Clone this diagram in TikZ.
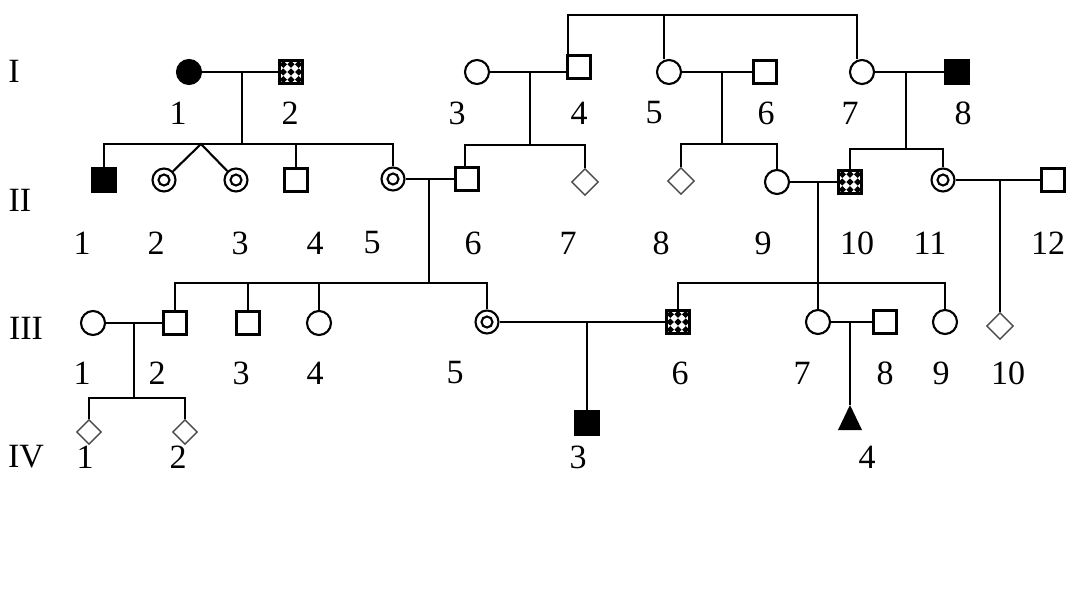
\documentclass[tikz,border=0pt]{standalone}
\usepackage{fontspec}
\setmainfont{Liberation Serif}
\usetikzlibrary{shapes.geometric,calc}
\begin{document}
\begin{tikzpicture}[x=1pt,y=-1pt,
  lw/.style={line width=2.1pt},
  ind/.style={draw, lw, inner sep=0pt, fill=white},
  sq/.style={ind, rectangle, minimum size=23pt},
  ci/.style={ind, circle, minimum size=24pt},
  aff/.style={fill=black},
  dci/.style={ci, minimum size=23pt, path picture={\draw[lw] (path picture bounding box.center) circle (5.5pt);}},
  dia/.style={draw=black!70, line width=1.4pt, diamond, minimum size=27pt, inner sep=0pt, fill=white},
  sdia/.style={dia, minimum size=25pt},
  chk/.style={sq, path picture={
    \foreach \i in {0,1,2}{\foreach \j in {0,1,2}{
      \fill[black] ([shift={(\i*7.67pt+3.83pt,\j*7.67pt+3.83pt)}]path picture bounding box.south west)
        +(0,3.6pt) -- +(3.6pt,0) -- +(0,-3.6pt) -- +(-3.6pt,0) -- cycle;
    }}
    \foreach \i in {0,1,2}{
      \fill[black] ([shift={(\i*7.67pt+3.83pt,0pt)}]path picture bounding box.north west)
        +(0,-2pt) -- +(3.6pt,0) -- +(-3.6pt,0) -- cycle;
    }}},
  lab/.style={font=\fontsize{34}{40}\selectfont, inner sep=0pt},
  link/.style={lw}
]
\useasboundingbox[fill=white] (0,0) rectangle (1088,600);

% Generation I
\node[ci, aff] (I1) at (189,72) {};
\node[chk] (I2) at (291,72) {};
\node[ci] (I3) at (477,72) {};
\node[sq] (I4) at (579,67) {};
\node[ci] (I5) at (669,72) {};
\node[sq] (I6) at (765,72) {};
\node[ci] (I7) at (862,72) {};
\node[sq, aff] (I8) at (957,72) {};

% Generation II
\node[sq, aff] (II1) at (104,180) {};
\node[dci] (II2) at (164,180) {};
\node[dci] (II3) at (236,180) {};
\node[sq] (II4) at (296,180) {};
\node[dci] (II5) at (393,179) {};
\node[sq] (II6) at (467,179) {};
\node[dia] (II7) at (585,182) {};
\node[dia] (II8) at (681,181) {};
\node[ci] (II9) at (777,182) {};
\node[chk] (II10) at (850,182) {};
\node[dci] (II11) at (943,180) {};
\node[sq] (II12) at (1053,180) {};

% Generation III
\node[ci] (III1) at (93,323) {};
\node[sq] (III2) at (175,323) {};
\node[sq] (III3) at (248,323) {};
\node[ci] (III4) at (319,323) {};
\node[dci] (III5) at (487,322) {};
\node[chk] (III6) at (678,322) {};
\node[ci] (III7) at (818,322) {};
\node[sq] (III8) at (885,322) {};
\node[ci] (III9) at (945,322) {};
\node[dia] (III10) at (1000,326) {};

% Generation IV
\node[sdia] (IV1) at (89,432) {};
\node[sdia] (IV2) at (185,432) {};
\node[sq, aff] (IV3) at (587,423) {};
\coordinate (IV4) at (850,405);
\fill (IV4) -- ++(12,25) -- ++(-24,0) -- cycle;

% helper coordinates
\coordinate (top) at (0,15);
\coordinate (m12) at (242,72);   \coordinate (s12) at (242,144);
\coordinate (tw) at (201,144);
\coordinate (m34) at (530,72);   \coordinate (s34) at (530,145);
\coordinate (m56) at (722,72);   \coordinate (s56) at (722,144);
\coordinate (m78) at (906,72);   \coordinate (s78) at (906,149);
\coordinate (mII56) at (429,179); \coordinate (sII56) at (429,283);
\coordinate (mII910) at (818,182);
\coordinate (mII1112) at (1000,180);
\coordinate (mIII12) at (134,323); \coordinate (sIII12) at (134,398);
\coordinate (mIII56) at (587,322);
\coordinate (mIII78) at (850,322);

% connectors generation I
\draw[link] ([xshift=-11pt]I4.north) |- ([xshift=-5pt]I7.north |- top) -- ([xshift=-5pt]I7.north);
\draw[link] ([xshift=-5pt]I5.north |- top) -- ([xshift=-5pt]I5.north);
\draw[link] (I1) -- (I2);
\draw[link] (m12) -- (s12);
\draw[link] (II1.north) |- (II5.north |- s12) -- (II5.north);
\draw[link] (II2) -- (tw) -- (II3);
\draw[link] (II4.north) -- (II4.north |- s12);
\draw[link] (I3) -- (I4.west |- I3);
\draw[link] (m34) -- (s34);
\draw[link] ([xshift=-2pt]II6.north) |- (II7.north |- s34) -- (II7.north);
\draw[link] (I5) -- (I6);
\draw[link] (m56) -- (s56);
\draw[link] (II8.north) |- (II9.north |- s56) -- (II9.north);
\draw[link] (I7) -- (I8);
\draw[link] (m78) -- (s78);
\draw[link] (II10.north) |- (II11.north |- s78) -- (II11.north);

% connectors generation II
\draw[link] (II5) -- (II6);
\draw[link] (mII56) -- (sII56);
\draw[link] (III2.north) |- (III5.north |- sII56) -- (III5.north);
\draw[link] (III3.north) -- (III3.north |- sII56);
\draw[link] (III4.north) -- (III4.north |- sII56);
\draw[link] (II9) -- (II10);
\draw[link] (mII910) -- (III7.north);
\draw[link] (III6.north) |- (III9.north |- sII56) -- (III9.north);
\draw[link] (II11) -- (II12);
\draw[link] (mII1112) -- (III10.north);

% connectors generation III
\draw[link] (III1) -- (III2);
\draw[link] (mIII12) -- (sIII12);
\draw[link] (IV1.north) |- (IV2.north |- sIII12) -- (IV2.north);
\draw[link] (III5) -- (III6);
\draw[link] (mIII56) -- (IV3.north);
\draw[link] (III7) -- (III8);
\draw[link] (mIII78) -- (IV4);

% generation labels
\node[lab] (gI) at (14,71) {I};
\node[lab] (gII) at (20,200) {II};
\node[lab] (gIII) at (26,328) {III};
\node[lab] (gIV) at (26,457) {IV};

% numbers row I
\foreach \n/\x in {1/178,2/290,3/457,4/579,5/654,6/766,7/850,8/963}
  \node[lab] (nI\n) at (\x,113) {\n};
% numbers row II
\foreach \n/\x in {1/82,2/156,3/240,4/315,5/372,6/473,7/568,8/661,9/763,10/857,11/930,12/1048}
  \node[lab] (nII\n) at (\x,243) {\n};
% numbers row III
\foreach \n/\x in {1/82,2/157,3/241,4/315,5/455,6/680,7/802,8/885,9/941,10/1008}
  \node[lab] (nIII\n) at (\x,373) {\n};
% numbers row IV
\foreach \n/\x in {1/85,2/178,3/578,4/867}
  \node[lab] (nIV\n) at (\x,457) {\n};
\end{tikzpicture}
\end{document}
